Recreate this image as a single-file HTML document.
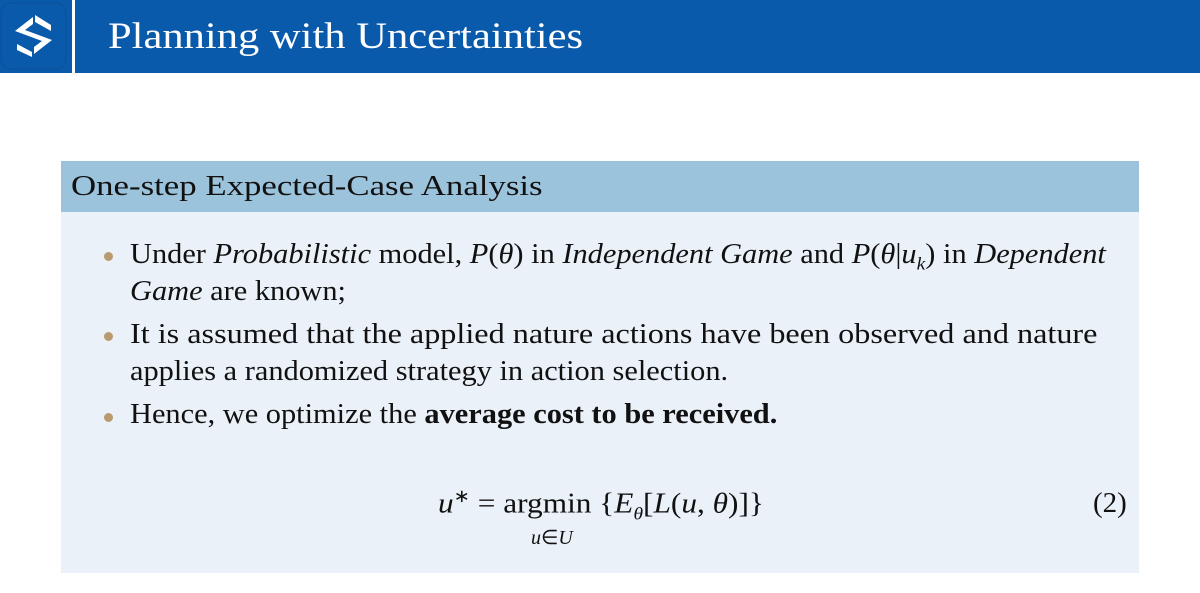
<!DOCTYPE html>
<html><head><meta charset="utf-8"><style>
body{margin:0;width:1200px;height:593px;background:#fff;position:relative;overflow:hidden;font-family:"Liberation Serif",serif;}
.hdr{position:absolute;left:0;top:0;width:1200px;height:73px;background:#0a5aac;}
.sep{position:absolute;left:72px;top:0;width:3px;height:73px;background:#fff;}
.title{position:absolute;left:108px;top:15px;color:#fff;font-size:37px;line-height:44px;transform:scaleX(1.15);transform-origin:left;white-space:nowrap;}
.bh{position:absolute;left:61px;top:161px;width:1078px;height:51px;background:#9cc3dc;}
.bh span{position:absolute;left:10px;top:9px;font-size:29px;color:#111;transform:scaleX(1.2);transform-origin:left;white-space:nowrap;}
.bb{position:absolute;left:61px;top:212px;width:1078px;height:361px;background:#eaf1f8;}
.line{position:absolute;left:130px;font-size:28px;color:#111;white-space:nowrap;transform:scaleX(1.085);transform-origin:left;}
.dot{position:absolute;left:104px;width:9px;height:9px;border-radius:50%;background:#b89a6e;}
.eq{position:absolute;font-size:29px;color:#111;white-space:nowrap;}
</style></head><body>
<div class="hdr"></div>
<svg style="position:absolute;left:0;top:0" width="72" height="73">
<rect x="1" y="3" width="65" height="66" rx="10" fill="none" stroke="#0b4f96" stroke-width="1"/>
<polygon points="15,31 33,17 33,24 25,30 52,40 34,54 34,47 42,41 15,31" fill="#fff"/>
<polygon points="35,15 51,25 51,31 35,22" fill="#fff"/>
<polygon points="17,44 32,52 32,57 17,50" fill="#fff"/>
</svg>
<div class="sep"></div>
<div class="title">Planning with Uncertainties</div>
<div class="bh"><span>One-step Expected-Case Analysis</span></div>
<div class="bb"></div>
<div class="dot" style="top:252px"></div>
<div class="line" style="top:239px">Under <i>Probabilistic</i> model, <i>P</i>(<i>θ</i>) in <i>Independent Game</i> and <i>P</i>(<i>θ</i>|<i>u<sub style="font-size:18px">k</sub></i>) in <i>Dependent</i></div>
<div class="line" style="top:276px"><i>Game</i> are known;</div>
<div class="dot" style="top:332px"></div>
<div class="line" style="top:319px;transform:scaleX(1.15)">It is assumed that the applied nature actions have been observed and nature</div>
<div class="line" style="top:356px">applies a randomized strategy in action selection.</div>
<div class="dot" style="top:413px"></div>
<div class="line" style="top:399px">Hence, we optimize the <b>average cost to be received.</b></div>
<div class="eq" style="left:438px;top:486px;transform:scaleX(1.08);transform-origin:left"><i>u</i><sup style="font-size:18px">∗</sup> = argmin {<i>E</i><sub style="font-size:18px"><i>θ</i></sub>[<i>L</i>(<i>u</i>, <i>θ</i>)]}</div>
<div class="eq" style="left:531px;top:525px;font-size:20px"><i>u</i>∈<i>U</i></div>
<div class="eq" style="left:1093px;top:487px">(2)</div>
</body></html>
